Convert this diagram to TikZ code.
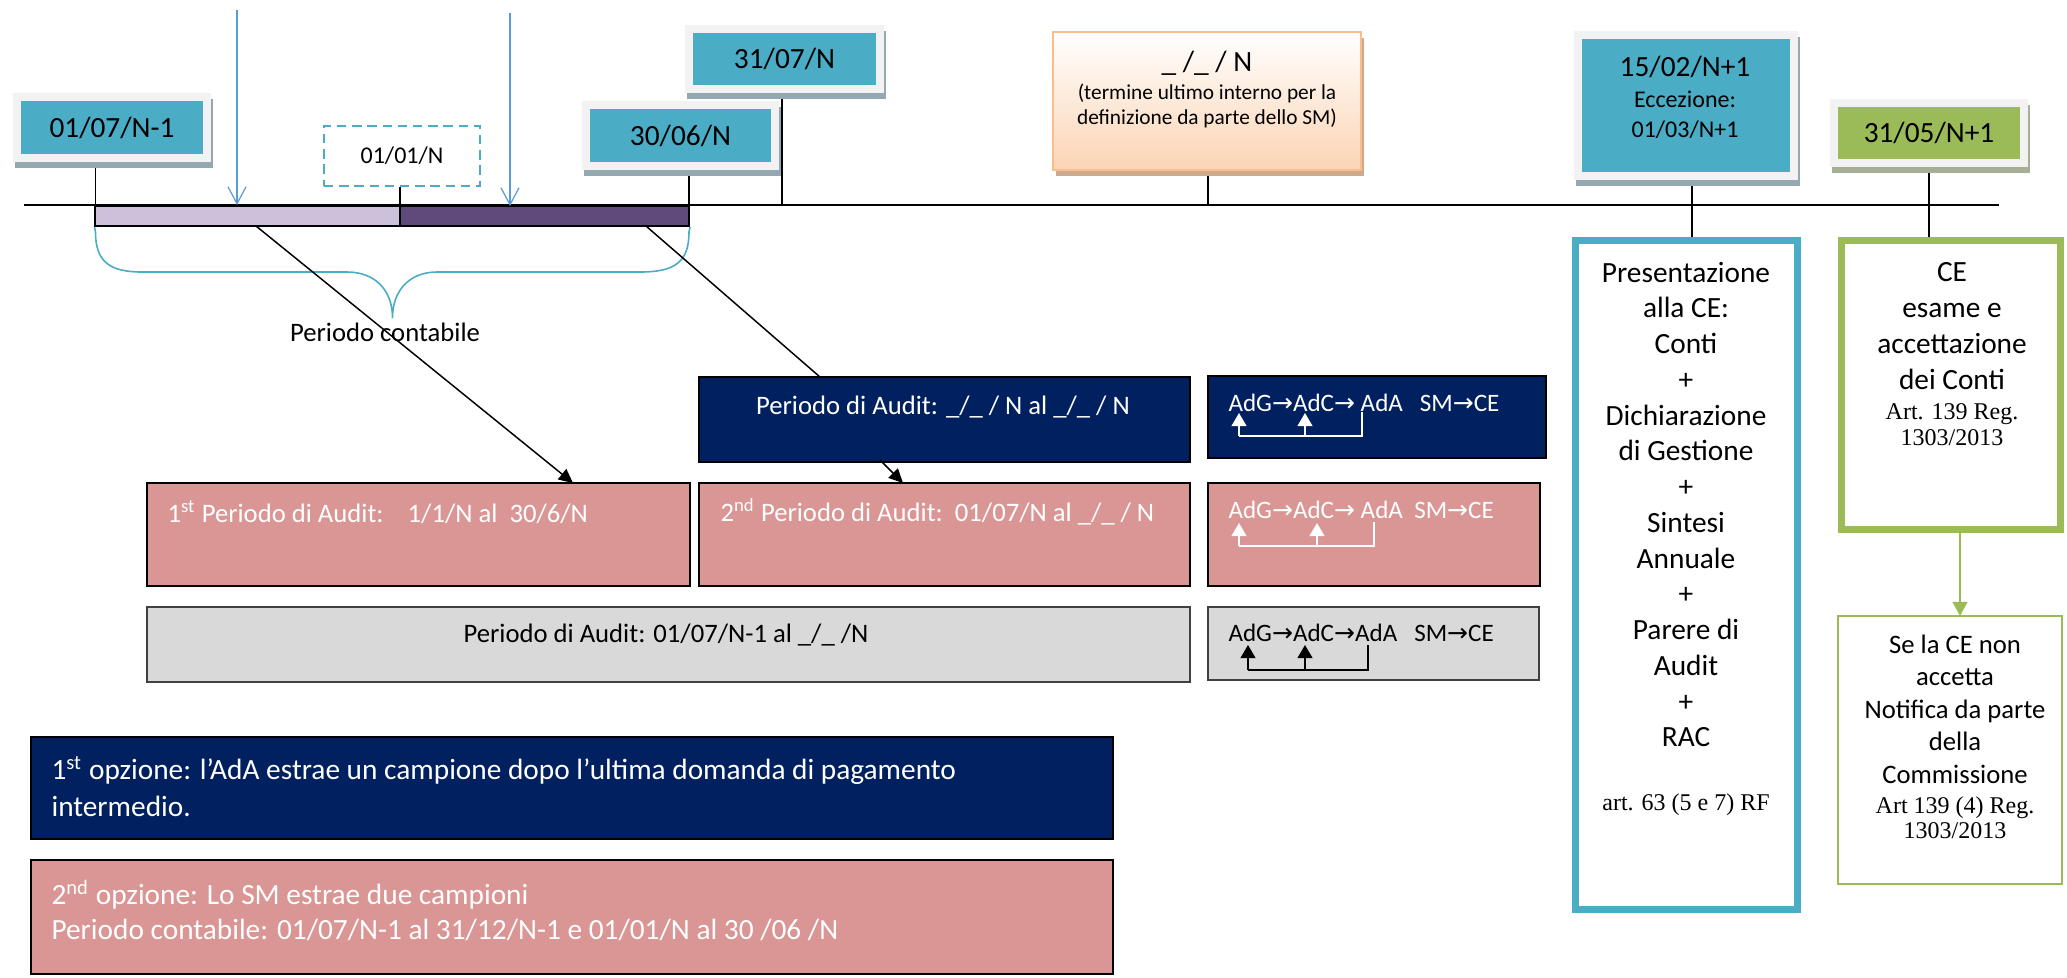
\documentclass[tikz,border=0pt]{standalone}
\usepackage{fontspec}
\setmainfont{Carlito}
\newfontfamily\timesf{Liberation Serif}
\newfontfamily\symf{DejaVu Sans}
\usetikzlibrary{arrows.meta,shadows}
\definecolor{teal4}{HTML}{4BACC6}
\definecolor{grn}{HTML}{9BBB59}
\definecolor{frame}{HTML}{F2F2F2}
\definecolor{shblue}{HTML}{93A8B0}
\definecolor{shgrn}{HTML}{A6AE95}
\definecolor{shor}{HTML}{CFA98C}
\definecolor{orbord}{HTML}{F9BE8F}
\definecolor{orfill}{HTML}{FBD4B4}
\definecolor{lilac}{HTML}{CCC0DA}
\definecolor{purp}{HTML}{604A7B}
\definecolor{navy}{HTML}{002060}
\definecolor{pinkb}{HTML}{D99694}
\definecolor{greyb}{HTML}{D9D9D9}
\definecolor{lblue}{HTML}{5B9BD5}
\newcommand\RA{{\symf →}}
\pgfdeclarelayer{bg}
\pgfsetlayers{bg,main}
\begin{document}
\begin{tikzpicture}[x=0.375pt,y=-0.375pt,
  f11/.style={font=\fontsize{11}{13.4}\selectfont},
  f10/.style={font=\fontsize{10}{12.2}\selectfont},
  f9/.style={font=\fontsize{9}{11.25}\selectfont},
  f8/.style={font=\fontsize{8}{9.4}\selectfont},
  txt/.style={inner sep=0pt},
  datebox/.style={draw=frame, line width=3pt, fill=teal4, inner sep=0pt, f11,
     general shadow={shadow xshift=0.8pt, shadow yshift=-2.2pt, fill=shblue, draw=shblue, line width=3pt}},
  gdatebox/.style={datebox, fill=grn,
     general shadow={shadow xshift=0.8pt, shadow yshift=-2.2pt, fill=shgrn, draw=shgrn, line width=3pt}},
  orbox/.style={draw=orbord, line width=0.75pt, top color=white, bottom color=orfill, inner sep=0pt,
     general shadow={shadow xshift=1.2pt, shadow yshift=-2.4pt, fill=shor}},
  dashbox/.style={draw=teal4, line width=0.6pt, dash pattern=on 3.5pt off 2.2pt, fill=white, inner sep=0pt, f9},
  barbox/.style={draw=black, line width=0.75pt, inner sep=0pt},
  navybox/.style={draw=black, line width=0.75pt, fill=navy, inner sep=0pt},
  pinkbox/.style={draw=black, line width=0.75pt, fill=pinkb, inner sep=0pt},
  greybox/.style={draw=black!75, line width=0.6pt, fill=greyb, inner sep=0pt},
  tick/.style={draw=black, line width=0.6pt},
  bluearr/.style={draw=lblue, line width=0.45pt, -{Straight Barb[length=6.4pt,width=6.8pt]}},
  brace/.style={draw=teal4, line width=0.6pt},
  blk/.style={draw=black, line width=0.55pt},
  blkarr/.style={blk, -{Triangle[length=5.3pt,width=5pt]}},
  wbr/.style={draw=white, line width=0.55pt},
  wbrarr/.style={wbr, -{Triangle[length=4.9pt,width=5.6pt]}},
  kbr/.style={draw=black, line width=0.55pt},
  kbrarr/.style={kbr, -{Triangle[length=4.9pt,width=5.6pt]}},
  grnarr/.style={draw=grn, line width=0.5pt, -{Triangle[length=5.3pt,width=5.6pt]}},
  serif9/.style={font=\timesf\fontsize{9}{9.75}\selectfont}
]
\useasboundingbox (0,0) rectangle (2067,977);

% timeline coordinates
\coordinate (tl0) at (24,205);
\coordinate (tl1) at (1999,205);
\coordinate (k1) at (95.5,205);
\coordinate (k2) at (400,205);
\coordinate (k3) at (689,205);
\coordinate (k4) at (782,205);
\coordinate (k5) at (1208,205);
\coordinate (k6) at (1692,205);
\coordinate (k7) at (1929,205);

\draw[line width=0.75pt] (tl0) -- (tl1);

% bar
\node[barbox, fill=lilac, minimum width=114.2pt, minimum height=7.5pt] (bar1) at (247.75,216) {};
\node[barbox, fill=purp, minimum width=108.4pt, minimum height=7.5pt] (bar2) at (544.5,216) {};

% date boxes
\node[datebox, minimum width=71.25pt, minimum height=22.9pt] (A) at (112,127.5) {01/07/N-1};
\node[datebox, minimum width=70.9pt, minimum height=22.9pt] (B) at (680.5,135.5) {30/06/N};
\node[datebox, minimum width=71.6pt, minimum height=22.5pt] (C) at (784.5,59) {31/07/N};
\node[dashbox, minimum width=58.5pt, minimum height=22.5pt] (G) at (402,156) {01/01/N};

\node[orbox, minimum width=115.5pt, minimum height=51.75pt] (D) at (1207,101) {};
\node[txt, f11] (D1) at (1207,63) {\_ /\_ / N};
\node[txt, f8, align=center] (D2) at (1207,105.5) {(termine ultimo interno per la\\definizione da parte dello SM)};

\node[datebox, minimum width=81pt, minimum height=52.9pt] (E) at (1686,105.5) {};
\node[txt, f11] (E1) at (1685,67) {15/02/N+1};
\node[txt, f9, align=center] (E2) at (1685,115) {Eccezione:\\01/03/N+1};

\node[gdatebox, minimum width=71.25pt, minimum height=22.5pt] (F) at (1929,133) {31/05/N+1};

% right boxes
\node[draw=teal4, line width=2.6pt, fill=white, inner sep=0pt, minimum width=83.25pt, minimum height=250.9pt] (P) at (1686.5,575) {};
\node[txt, f11, align=center] (Pt) at (1686,504.5) {Presentazione\\alla CE:\\Conti\\+\\Dichiarazione\\di Gestione\\+\\Sintesi\\Annuale\\+\\Parere di\\Audit\\+\\RAC};
\node[txt, serif9] (Pa) at (1686,805) {art. 63 (5 e 7) RF};

\node[draw=grn, line width=2.6pt, fill=white, inner sep=0pt, minimum width=82.1pt, minimum height=108.4pt] (CE) at (1951,385) {};
\node[txt, font=\fontsize{11}{13.5}\selectfont, align=center] (CEt) at (1952,326) {CE\\esame e\\accettazione\\dei Conti};
\node[txt, serif9, align=center] (CEr) at (1952,425) {Art. 139 Reg.\\1303/2013};

\node[draw=grn, line width=0.75pt, fill=white, inner sep=0pt, minimum width=84pt, minimum height=100.5pt] (NF) at (1950,750) {};
\node[txt, f10, align=center] (NFt) at (1955,709) {Se la CE non\\accetta\\Notifica da parte\\della\\Commissione};
\node[txt, font=\timesf\fontsize{9}{9.4}\selectfont, align=center] (NFr) at (1955,817.5) {Art 139 (4) Reg.\\1303/2013};

% audit boxes
\node[navybox, minimum width=184.1pt, minimum height=31.9pt] (nv) at (944.5,419.5) {};
\node[txt, f10, text=white] (nvt) at (943,407) {Periodo di Audit: \_/\_ / N al \_/\_ / N};
\node[pinkbox, minimum width=203.6pt, minimum height=38.6pt] (pk1) at (418.5,534.5) {};
\node[txt, f10, text=white, anchor=west] (pk1t) at (167,512) {1\textsuperscript{st} Periodo di Audit:\ \ \ \ 1/1/N al\ \ 30/6/N};
\node[pinkbox, minimum width=184.1pt, minimum height=38.6pt] (pk2) at (944.5,534.5) {};
\node[txt, f10, text=white, anchor=west] (pk2t) at (720,512) {2\textsuperscript{nd} Periodo di Audit:\ \ 01/07/N al \_/\_ / N};
\node[greybox, minimum width=391.1pt, minimum height=28.1pt] (gr) at (668.5,644.5) {};
\node[txt, f10] (grt) at (666,635) {Periodo di Audit: 01/07/N-1 al \_/\_ /N};

% small boxes
\node[navybox, minimum width=126.75pt, minimum height=30.75pt] (snv) at (1377,417) {};
\node[txt, font=\fontsize{9.4}{11}\selectfont, text=white, anchor=west] (snvt) at (1228,403) {AdG\RA AdC\RA\ AdA\ \ \ SM\RA CE};
\node[pinkbox, minimum width=124.5pt, minimum height=38.6pt] (spk) at (1374,534.5) {};
\node[txt, font=\fontsize{9.4}{11}\selectfont, text=white, anchor=west] (spkt) at (1228,510) {AdG\RA AdC\RA\ AdA\ \ SM\RA CE};
\node[greybox, minimum width=124.1pt, minimum height=27.4pt] (sgr) at (1373.5,643.5) {};
\node[txt, font=\fontsize{9.4}{11}\selectfont, anchor=west] (sgrt) at (1228,633) {AdG\RA AdC\RA AdA\ \ \ SM\RA CE};

% brackets in small boxes
\coordinate (na) at (1362,412); \coordinate (nb) at (1362,436); \coordinate (nc) at (1239,436);
\coordinate (nd) at (1239,413); \coordinate (ne) at (1305,436); \coordinate (nf) at (1305,413);
\draw[wbr] (na) -- (nb) -- (nc);
\draw[wbrarr] (nc) -- (nd);
\draw[wbrarr] (ne) -- (nf);
\coordinate (pa) at (1374,522); \coordinate (pb) at (1374,546); \coordinate (pc) at (1239,546);
\coordinate (pd) at (1239,523); \coordinate (pe) at (1317,546); \coordinate (pf) at (1317,523);
\draw[wbr] (pa) -- (pb) -- (pc);
\draw[wbrarr] (pc) -- (pd);
\draw[wbrarr] (pe) -- (pf);
\coordinate (ga) at (1368,645); \coordinate (gb) at (1368,670); \coordinate (gc) at (1248,670);
\coordinate (gd) at (1248,645); \coordinate (ge) at (1305,670); \coordinate (gf) at (1305,645);
\draw[kbr] (ga) -- (gb) -- (gc);
\draw[kbrarr] (gc) -- (gd);
\draw[kbrarr] (ge) -- (gf);

% option boxes
\node[navybox, minimum width=405.75pt, minimum height=38.25pt] (o1) at (572,788) {};
\node[txt, font=\fontsize{11}{13.9}\selectfont, text=white, anchor=west, align=left] (o1t) at (51,786.5) {1\textsuperscript{st} opzione: l’AdA estrae un campione dopo l’ultima domanda di pagamento\\intermedio.};
\node[pinkbox, minimum width=406.1pt, minimum height=42.75pt] (o2) at (572,917) {};
\node[txt, font=\fontsize{11}{13.1}\selectfont, text=white, anchor=west, align=left] (o2t) at (51,910.5) {2\textsuperscript{nd} opzione: Lo SM estrae due campioni\\Periodo contabile: 01/07/N-1 al 31/12/N-1 e 01/01/N al 30 /06 /N};

% ticks (behind boxes)
\begin{pgfonlayer}{bg}
\draw[tick] (A.south -| k1) -- (k1);
\draw[tick] (G.south -| k2) -- (k2);
\draw[tick] (B.south -| k3) -- (k3);
\draw[tick] (C.south -| k4) -- (k4);
\draw[tick] (D.south -| k5) -- (k5);
\draw[tick] (E.south -| k6) -- (P.north -| k6);
\draw[tick] (F.south -| k7) -- (CE.north -| k7);
\end{pgfonlayer}

% blue arrows
\coordinate (b1s) at (237,10); \coordinate (b1e) at (237,205);
\coordinate (b2s) at (510,13); \coordinate (b2e) at (510,206);
\draw[bluearr] (b1s) -- (b1e);
\draw[bluearr] (b2s) -- (b2e);

% brace
\draw[brace] (bar1.south west) -- (95.5,232) .. controls (95.5,262) and (110,272) .. (142,272)
  -- (347,272) .. controls (375,272) and (392.5,290) .. (392.5,318)
  .. controls (392.5,290) and (410,272) .. (437,272)
  -- (640,272) .. controls (675,272) and (689,262) .. (689,232) -- (bar2.south east);
\node[txt, f10] (pcl) at (385,332) {Periodo contabile};

% black connectors
\coordinate (l1s) at (256,226); \coordinate (l1e) at (573,483);
\draw[blkarr] (l1s) -- (l1e);
\coordinate (l2s) at (646,226); \coordinate (l2e) at (820,377);
\draw[blk] (l2s) -- (l2e);
\coordinate (l3s) at (880,460); \coordinate (l3e) at (903,483);
\draw[blkarr] (l3s) -- (l3e);

% green arrow
\coordinate (gr1) at (1960,533); \coordinate (gr2) at (1960,616);
\draw[grnarr] (gr1) -- (gr2);
\end{tikzpicture}
\end{document}
